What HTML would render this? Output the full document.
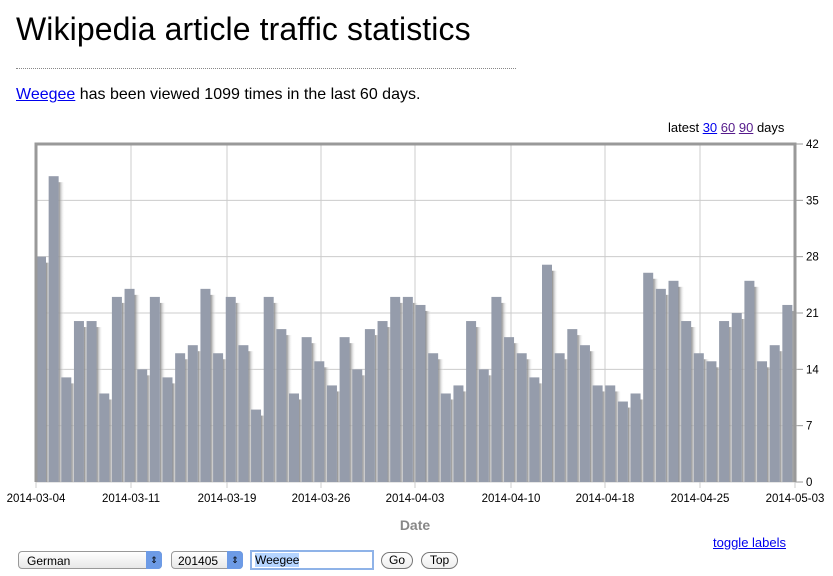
<!DOCTYPE html>
<html><head><meta charset="utf-8"><style>
body{margin:0;width:833px;height:576px;background:#fff;font-family:"Liberation Sans",sans-serif;position:relative;overflow:hidden}
.a{position:absolute;white-space:nowrap}
</style></head><body>
<div class="a" style="left:16px;top:11px;font-size:32px;color:#000;letter-spacing:0.1px">Wikipedia article traffic statistics</div>
<div class="a" style="left:16px;top:68px;width:500px;border-top:1px dotted #888"></div>
<div class="a" style="left:16px;top:86px;font-size:16px"><span style="color:#00e;text-decoration:underline">Weegee</span> has been viewed 1099 times in the last 60 days.</div>
<div class="a" style="left:668px;top:120px;font-size:13px">latest <span style="color:#00e;text-decoration:underline">30</span> <span style="color:#551a8b;text-decoration:underline">60</span> <span style="color:#551a8b;text-decoration:underline">90</span> days</div>
<svg class="a" style="left:0;top:0" width="833" height="576" id="s">
<defs><linearGradient id="g" x1="0" x2="1"><stop offset="0" stop-color="#888"/><stop offset="1" stop-color="#fff" stop-opacity="0"/></linearGradient></defs>
</svg>
<div class="a" style="left:713px;top:535px;font-size:13px;color:#00e;text-decoration:underline">toggle labels</div>
<div class="a" style="left:18px;top:551px;height:18px;border:1px solid #999;border-radius:4px;background:linear-gradient(#fff,#e8e8e8);font-size:12px;line-height:18px;padding-left:8px;box-sizing:border-box;width:144px">German</div>
<div class="a" style="left:146px;top:551px;width:16px;height:18px;background:#6d9be6;border-radius:0 4px 4px 0;color:#000;font-size:9px;text-align:center;line-height:18px">⇕</div>
<div class="a" style="left:171px;top:551px;width:72px;height:18px;border:1px solid #999;border-radius:4px;background:linear-gradient(#fff,#e8e8e8);font-size:12px;line-height:18px;padding-left:6px;box-sizing:border-box">201405</div>
<div class="a" style="left:227px;top:551px;width:16px;height:18px;background:#6d9be6;border-radius:0 4px 4px 0;font-size:9px;text-align:center;line-height:18px">⇕</div>
<div class="a" style="left:250px;top:550px;width:124px;height:20px;border:2px solid #8fb3e8;box-sizing:border-box;font-size:12px;line-height:16px;padding-left:3px"><span style="background:#b5d5ff">Weegee</span></div>
<div class="a" style="left:381px;top:552px;width:32px;height:17px;border:1px solid #777;border-radius:9px;box-sizing:border-box;font-size:12px;text-align:center;line-height:15px;background:linear-gradient(#fff,#eee)">Go</div>
<div class="a" style="left:421px;top:552px;width:37px;height:17px;border:1px solid #777;border-radius:9px;box-sizing:border-box;font-size:12px;text-align:center;line-height:15px;background:linear-gradient(#fff,#eee)">Top</div>
<script>
var v=[28,38,13,20,20,11,23,24,14,23,13,16,17,24,16,23,17,9,23,19,11,18,15,12,18,14,19,20,23,23,22,16,11,12,20,14,23,18,16,13,27,16,19,17,12,12,10,11,26,24,25,20,16,15,20,21,25,15,17,22];
var s=document.getElementById('s'),h='';
var L=36,R=795,T=144,B=482,k=(B-T)/42;
for(var i=0;i<=6;i++){var y=B-i*7*k;h+='<line x1="'+L+'" x2="'+R+'" y1="'+y+'" y2="'+y+'" stroke="#ccc"/>';h+='<line x1="'+R+'" x2="803" y1="'+y+'" y2="'+y+'" stroke="#999"/>';h+='<text x="806" y="'+(y+4)+'" font-size="11.5">'+(i*7)+'</text>';}
var gx=[131,227,321,415,511,605,700],lb=['2014-03-04','2014-03-11','2014-03-19','2014-03-26','2014-04-03','2014-04-10','2014-04-18','2014-04-25','2014-05-03'];
gx.forEach(function(x){h+='<line x1="'+x+'" x2="'+x+'" y1="'+T+'" y2="'+B+'" stroke="#ccc"/>';});
var lx=[36].concat(gx).concat([795]);
lx.forEach(function(x,i){h+='<line x1="'+x+'" x2="'+x+'" y1="'+B+'" y2="'+(B+6)+'" stroke="#ccc"/>';h+='<text x="'+x+'" y="502" font-size="11.5" text-anchor="middle">'+lb[i]+'</text>';});
var w=(R-L)/60;
v.forEach(function(d,i){var x=L+i*w,y=B-d*k;h+='<rect x="'+(x+10)+'" y="'+(y+6)+'" width="6" height="'+(B-y-6)+'" fill="url(#g)"/>';h+='<rect x="'+x+'" y="'+y+'" width="10" height="'+(B-y)+'" fill="#959cab"/>';});
h+='<path d="M'+L+' '+B+'V'+T+'H'+R+'V'+B+'" fill="none" stroke="#999" stroke-width="3"/>';
h+='<text x="415" y="530" font-size="14" font-weight="bold" fill="#888" text-anchor="middle">Date</text>';
s.innerHTML+=h;
</script>
</body></html>
